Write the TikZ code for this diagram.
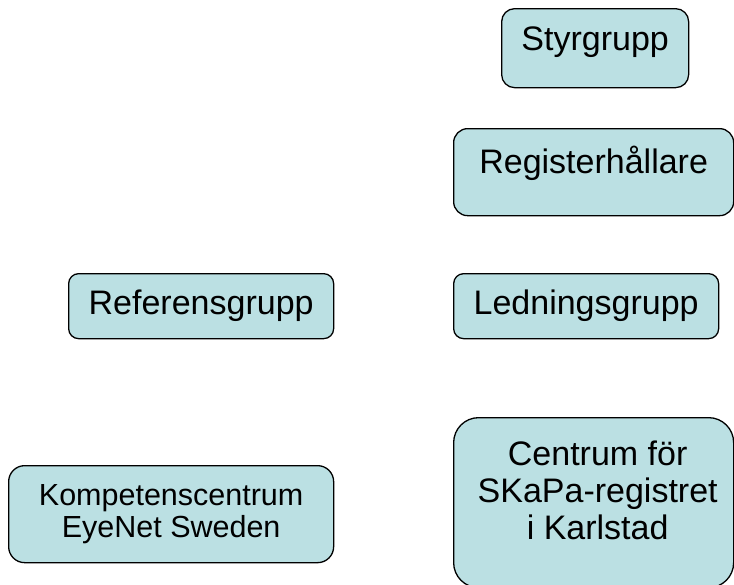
\documentclass[tikz,border=0pt]{standalone}
\usepackage{fontspec}
\setmainfont{Liberation Sans}
\usetikzlibrary{positioning}
\definecolor{boxfill}{RGB}{187,224,227}
\tikzset{
	orgbox/.style = {draw = black, line width = 1.3pt, fill = boxfill, inner sep = 0pt, align = center, anchor = north west},
	bigtext/.style = {font = \fontsize{34}{36.7}\selectfont},
	smalltext/.style = {font = \fontsize{30.5}{32.7}\selectfont}
}
\begin{document}
\begin{tikzpicture} [x = 1pt, y = -1pt]
	\useasboundingbox (0,0) rectangle (734,584);
	% right column
	\node [orgbox, bigtext, rounded corners = 13pt, minimum width = 187pt, minimum height = 79pt, text height = 42pt, text depth = 37pt] (styr) at (501,8) {Styrgrupp};
	\node [orgbox, bigtext, rounded corners = 14pt, minimum width = 280pt, minimum height = 87pt, text height = 45pt, text depth = 42pt] (register) at (453,128) {Registerh\r{a}llare};
	\node [orgbox, bigtext, rounded corners = 10pt, minimum width = 265pt, minimum height = 65pt] (ledning) at (453,273) {Ledningsgrupp};
	\node [orgbox, rounded corners = 25pt, minimum width = 280pt, minimum height = 170pt] (centrum) at (453,417) {};
	\node [bigtext, align = center, inner sep = 0pt, below = 24pt of centrum.north, xshift = 4pt] (centrumtext) {Centrum f\"or\\SKaPa-registret\\i Karlstad};
	% left column
	\node [orgbox, bigtext, rounded corners = 10pt, minimum width = 265pt, minimum height = 65pt] (referens) at (68,273) {Referensgrupp};
	\node [orgbox, smalltext, rounded corners = 16pt, minimum width = 325pt, minimum height = 97pt] (kompetens) at (8,465) {Kompetenscentrum\\EyeNet Sweden};
\end{tikzpicture}
\end{document}
